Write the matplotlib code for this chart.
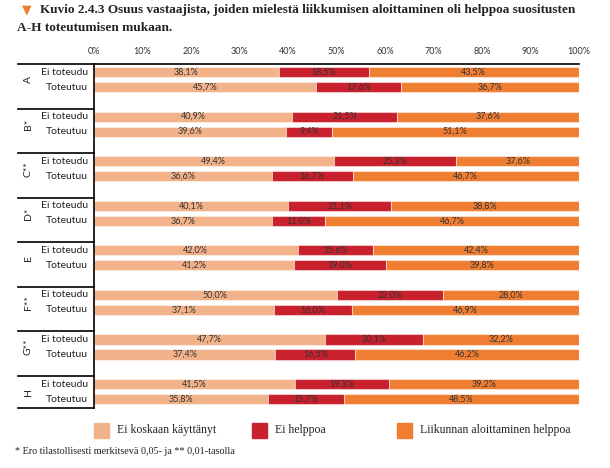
import matplotlib
matplotlib.use("Agg")
import matplotlib.pyplot as plt
from matplotlib.patches import Rectangle
import numpy as np

groups = ["A", "B*", "C**", "D*", "E", "F**", "G**", "H"]
rows = ["Ei toteudu", "Toteutuu"]

# two rows per group: Ei toteudu, Toteutuu
ei_koskaan = [38.1, 45.7, 40.9, 39.6, 49.4, 36.6, 40.1, 36.7,
              42.0, 41.2, 50.0, 37.1, 47.7, 37.4, 41.5, 35.8]
ei_helppoa = [18.5, 17.6, 21.5, 9.4, 25.3, 16.7, 21.1, 11.0,
              15.6, 19.0, 22.0, 16.0, 20.1, 16.5, 19.3, 15.7]
helppoa = [43.5, 36.7, 37.6, 51.1, 37.6, 46.7, 38.8, 46.7,
           42.4, 39.8, 28.0, 46.9, 32.2, 46.2, 39.2, 48.5]

legend_labels = ["Ei koskaan käyttänyt", "Ei helppoa", "Liikunnan aloittaminen helppoa"]
colors = ["#F2B28A", "#C8202D", "#F07E32"]
edge = (1, 1, 1, 0.45)

W, H = 610, 468
fig = plt.figure(figsize=(W / 100, H / 100), dpi=100)
ax = fig.add_axes([94 / W, 1 - 408 / H, 485 / W, 344 / H])

y = np.array([[3 * g + 0.54, 3 * g + 1.55] for g in range(len(groups))]).ravel()
light = np.array(ei_koskaan)
red = np.array(ei_helppoa)
# orange segment fills the rest of the bar, as in the source figure
rest = 100 - light - red

bh = 0.68
ax.barh(y, light, height=bh, color=colors[0], edgecolor=edge, linewidth=0.8)
ax.barh(y, red, left=light, height=bh, color=colors[1], edgecolor=edge, linewidth=0.8)
ax.barh(y, rest, left=light + red, height=bh, color=colors[2], edgecolor=edge, linewidth=0.8)

def fmt(v):
    return f"{v:.1f}%".replace(".", ",")

for i in range(len(y)):
    segs = [(0, light[i], ei_koskaan[i]),
            (light[i], red[i], ei_helppoa[i]),
            (light[i] + red[i], rest[i], helppoa[i])]
    for left, w, val in segs:
        ax.text(left + w / 2, y[i], fmt(val), ha="center", va="center",
                fontsize=6.5, color="#333333", family="Lato")

ax.set_xlim(0, 100)
ax.set_ylim(23.15, 0)
ax.xaxis.tick_top()
ax.set_xticks(range(0, 101, 10))
ax.set_xticklabels([f"{t}%" for t in range(0, 101, 10)])
ax.tick_params(axis="x", length=0, pad=6, labelsize=6.5, labelcolor="#333333")
for lab in ax.get_xticklabels():
    lab.set_family("Lato")
ax.set_yticks([])
ax.spines["right"].set_visible(False)
ax.spines["bottom"].set_visible(False)
ax.spines["top"].set_linewidth(1.2)
ax.spines["left"].set_linewidth(1.2)

tr = ax.get_yaxis_transform()
x0 = (18 - 94) / 485
for yy in [3 * g for g in range(len(groups))] + [23.15]:
    ax.plot([x0, 0], [yy, yy], transform=tr, clip_on=False, color="black", lw=1.2)

for g, name in enumerate(groups):
    ax.text((28 - 94) / 485, 3 * g + 1.05, name, transform=tr, rotation=90,
            ha="center", va="center", fontsize=7.5, family="Lato", color="#222222")
    for r, lab in enumerate(rows):
        ax.text(-0.013, 3 * g + [0.54, 1.55][r], lab, transform=tr, ha="right",
                va="center", fontsize=7.5, family="Lato", color="#222222")

# title
fig.text(22 / W, 1 - 10 / H, "▼", color=colors[2], fontsize=9, va="center",
         family="DejaVu Sans")
fig.text(40 / W, 1 - 10 / H,
         "Kuvio 2.4.3 Osuus vastaajista, joiden mielestä liikkumisen aloittaminen oli helppoa suositusten",
         fontsize=9.5, weight="bold", family="Liberation Serif", va="center", color="#222222")
fig.text(17 / W, 1 - 28 / H, "A-H toteutumisen mukaan.",
         fontsize=9.5, weight="bold", family="Liberation Serif", va="center", color="#222222")

# legend
leg_x = [94, 252, 397]
for c, lab, lx in zip(colors, legend_labels, leg_x):
    fig.patches.append(Rectangle((lx / W, 1 - 438 / H), 15 / W, 15 / H,
                                 transform=fig.transFigure, color=c))
    fig.text((lx + 23) / W, 1 - 430 / H, lab, fontsize=8.5, family="Liberation Serif",
             va="center", color="#222222")

fig.text(15 / W, 1 - 452 / H, "* Ero tilastollisesti merkitsevä 0,05- ja ** 0,01-tasolla",
         fontsize=7.3, family="Liberation Serif", va="center", color="#222222")

fig.savefig("out.png", dpi=100)
